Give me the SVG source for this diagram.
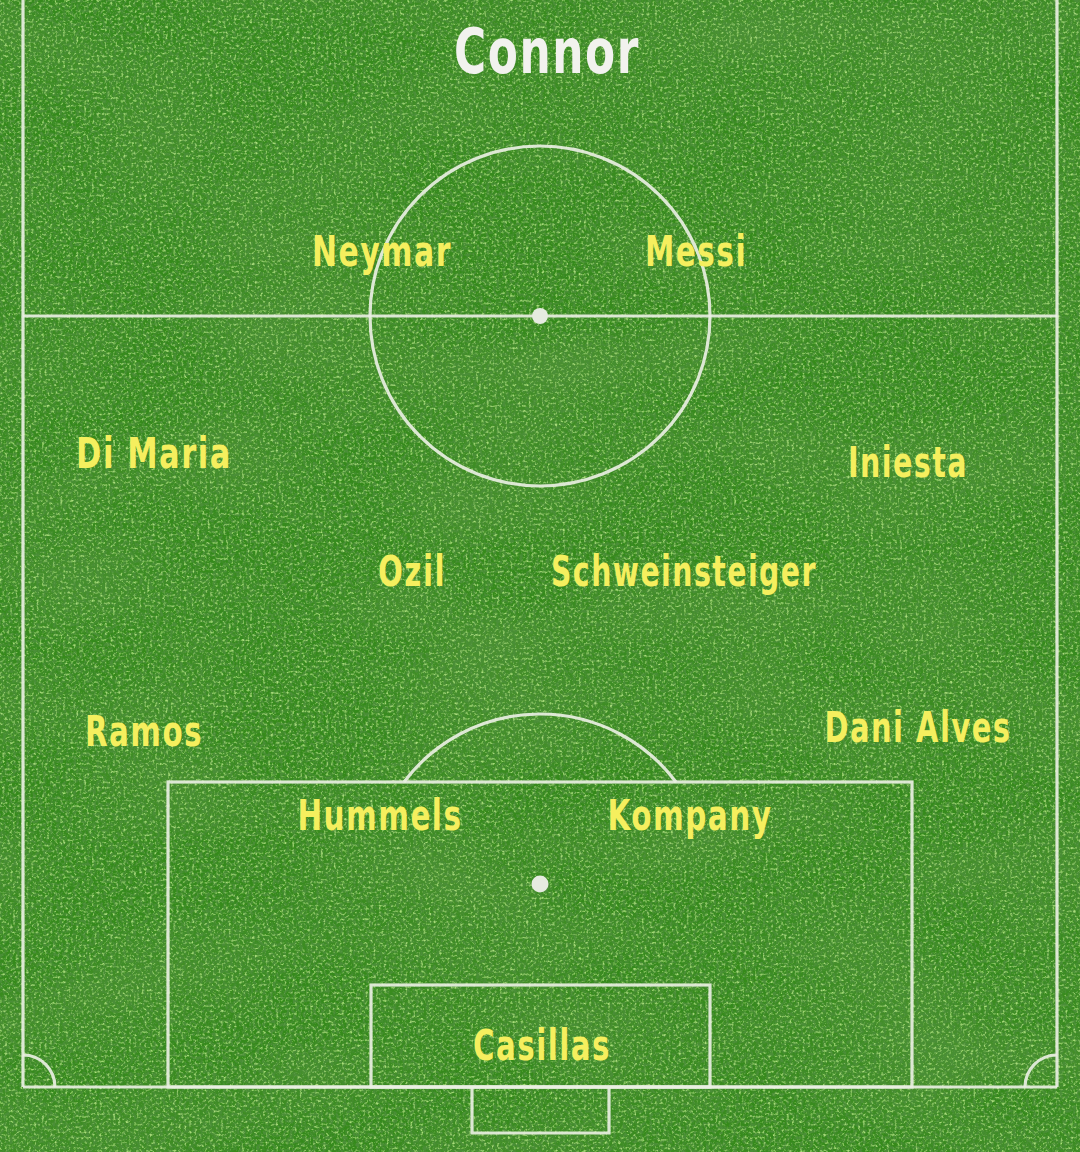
<svg xmlns="http://www.w3.org/2000/svg" width="1080" height="1152" viewBox="0 0 1080 1152">
<defs>
<filter id="grassDark" x="0" y="0" width="100%" height="100%">
<feTurbulence type="fractalNoise" baseFrequency="0.3" numOctaves="2" seed="3" result="n"/>
<feColorMatrix in="n" type="matrix" values="0 0 0 0 0.07  0 0 0 0 0.27  0 0 0 0 0.04  3.4 0 0 0 -1.3"/>
<feComposite in2="SourceGraphic" operator="in"/>
</filter>
<filter id="grassLight" x="0" y="0" width="100%" height="100%">
<feTurbulence type="fractalNoise" baseFrequency="0.38" numOctaves="2" seed="11" result="n"/>
<feColorMatrix in="n" type="matrix" values="0 0 0 0 0.40  0 0 0 0 0.72  0 0 0 0 0.20  3.0 0 0 0 -1.55"/>
<feComposite in2="SourceGraphic" operator="in"/>
</filter>
<filter id="patch" x="0" y="0" width="100%" height="100%">
<feTurbulence type="fractalNoise" baseFrequency="0.005 0.012" numOctaves="2" seed="7" result="n"/>
<feColorMatrix in="n" type="matrix" values="0 0 0 0 0.1  0 0 0 0 0.3  0 0 0 0 0.05  0 0 0 -1.2 0.75"/>
<feComposite in2="SourceGraphic" operator="in"/>
</filter>
</defs>
<style>
.ln{fill:none;stroke:#e9efe2;stroke-width:3.2;stroke-opacity:0.92}
.spot{fill:#e6ebe0}
.pl{font-family:"DejaVu Sans Condensed","Liberation Sans Narrow","Liberation Sans",sans-serif;font-stretch:condensed;font-weight:bold;font-size:42px;letter-spacing:2px;fill:#f5ef5e;text-anchor:middle}
.title{font-family:"DejaVu Sans Condensed","Liberation Sans Narrow","Liberation Sans",sans-serif;font-stretch:condensed;font-weight:bold;font-size:62px;letter-spacing:2px;fill:#f2f2ee;text-anchor:middle}
</style>
<g id="pitch">
<rect width="1080" height="1152" fill="#358a1b"/>
<rect width="1080" height="1152" fill="#000" filter="url(#patch)"/>
<rect width="1080" height="1152" fill="#000" filter="url(#grassDark)"/>
<rect width="1080" height="1152" fill="#000" filter="url(#grassLight)"/>
<line class="ln" x1="23" y1="0" x2="23" y2="1087"/>
<line class="ln" x1="1057" y1="0" x2="1057" y2="1087"/>
<line class="ln" x1="23" y1="1087" x2="1057" y2="1087"/>
<line class="ln" x1="23" y1="316" x2="1057" y2="316"/>
<circle class="ln" cx="540" cy="316" r="170"/>
<circle class="spot" cx="540" cy="316" r="8"/>
<rect class="ln" x="168" y="782" width="744" height="305"/>
<path class="ln" d="M404,782 A170,170 0 0 1 676,782"/>
<circle class="spot" cx="540" cy="884" r="8.5"/>
<rect class="ln" x="371" y="985" width="339" height="102"/>
<path class="ln" d="M472,1087 V1133 H609 V1087"/>
<path class="ln" d="M23,1055 A32,32 0 0 1 55,1087"/>
<path class="ln" d="M1057,1055 A32,32 0 0 0 1025,1087"/>
</g>
<g id="title"><text class="title" x="547" y="73" textLength="186" lengthAdjust="spacingAndGlyphs">Connor</text></g>
<g id="neymar"><text class="pl" x="382" y="266" textLength="140" lengthAdjust="spacingAndGlyphs">Neymar</text></g>
<g id="messi"><text class="pl" x="696" y="266" textLength="102" lengthAdjust="spacingAndGlyphs">Messi</text></g>
<g id="dimaria"><text class="pl" x="154" y="468" textLength="156" lengthAdjust="spacingAndGlyphs">Di Maria</text></g>
<g id="iniesta"><text class="pl" x="908" y="477" textLength="120" lengthAdjust="spacingAndGlyphs">Iniesta</text></g>
<g id="ozil"><text class="pl" x="412" y="586" textLength="68" lengthAdjust="spacingAndGlyphs">Ozil</text></g>
<g id="schweinsteiger"><text class="pl" x="684" y="586" textLength="266" lengthAdjust="spacingAndGlyphs">Schweinsteiger</text></g>
<g id="ramos"><text class="pl" x="144" y="746" textLength="118" lengthAdjust="spacingAndGlyphs">Ramos</text></g>
<g id="danialves"><text class="pl" x="918" y="742" textLength="187" lengthAdjust="spacingAndGlyphs">Dani Alves</text></g>
<g id="hummels"><text class="pl" x="380" y="830" textLength="165" lengthAdjust="spacingAndGlyphs">Hummels</text></g>
<g id="kompany"><text class="pl" x="690" y="830" textLength="165" lengthAdjust="spacingAndGlyphs">Kompany</text></g>
<g id="casillas"><text class="pl" x="542" y="1060" textLength="138" lengthAdjust="spacingAndGlyphs">Casillas</text></g>
</svg>
